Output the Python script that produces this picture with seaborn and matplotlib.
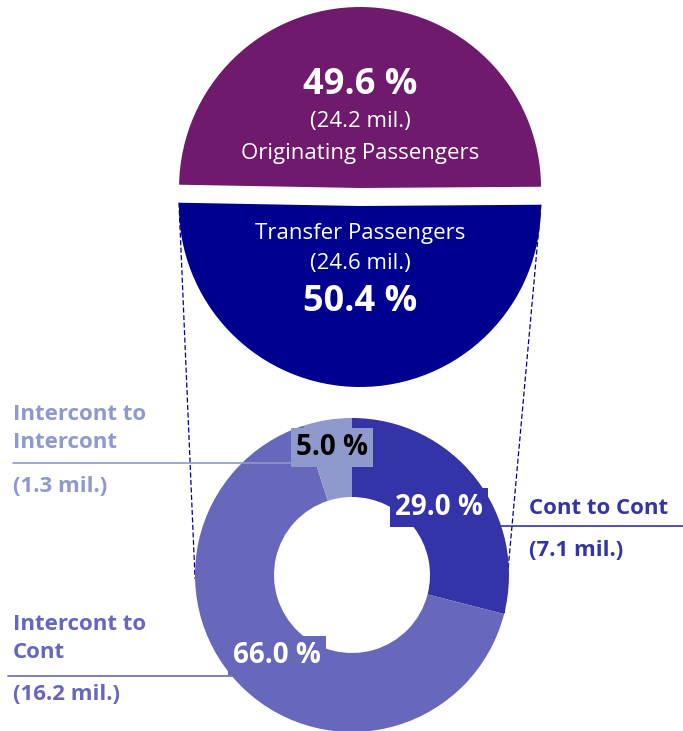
import numpy as np
import matplotlib.pyplot as plt
import seaborn as sns

# passenger split (top pie)
passenger_types = ["Originating Passengers", "Transfer Passengers"]
passenger_share = [49.6, 50.4]
passenger_mil = [24.2, 24.6]

# transfer breakdown (donut)
transfer_types = ["Cont to Cont", "Intercont to Cont", "Intercont to Intercont"]
transfer_share = [29.0, 66.0, 5.0]
transfer_mil = [7.1, 16.2, 1.3]

top_colors = ["#6F1A6C", "#00008F"]
ring_colors = ["#3434A8", "#6767BB", "#8F99CC"]

sns.set_theme(style="white")
plt.rcParams["font.family"] = ["Open Sans", "DejaVu Sans"]

W, H = 683, 731
fig = plt.figure(figsize=(W / 100, H / 100), dpi=100)
ax = fig.add_axes([0, 0, 1, 1])


def py(y):
    # pixel row -> data y
    return H - y


# top pie
top_c = (360, py(197))
top_r = 181
top_w, _ = ax.pie(passenger_share, colors=top_colors, center=top_c, radius=top_r,
                  startangle=0.4, counterclock=True, explode=[9, 9],
                  wedgeprops=dict(linewidth=0), frame=True)

# donut
ring_c = (352, py(575))
ring_r = 157
ring_w = 79
ring, _ = ax.pie(transfer_share, colors=ring_colors, center=ring_c, radius=ring_r,
                 startangle=90, counterclock=False,
                 wedgeprops=dict(width=ring_w, linewidth=0), frame=True)


def on_circle(c, r, ang):
    a = np.deg2rad(ang)
    return c[0] + r * np.cos(a), c[1] + r * np.sin(a)


# dashed connectors from the transfer half down to the donut
nav = top_w[1]
p0 = on_circle(nav.center, nav.r, nav.theta1)
p1 = on_circle(ring_c, ring_r, 181.5)
ax.plot([p0[0], p1[0]], [p0[1], p1[1]], ls=(0, (4, 2)), lw=0.9, color="#00008F", zorder=0)
p0 = on_circle(nav.center, nav.r, nav.theta2)
p1 = on_circle(ring_c, ring_r, ring[0].theta1)
ax.plot([p0[0], p1[0]], [p0[1], p1[1]], ls=(0, (4, 2)), lw=0.9, color="#00008F", zorder=0)

# text in the top pie
cx = top_c[0]
ax.text(cx, py(85), f"{passenger_share[0]:.1f} %", color="white", fontsize=26,
        fontweight="bold", ha="center", va="center")
ax.text(cx, py(122), f"({passenger_mil[0]} mil.)", color="white", fontsize=16,
        ha="center", va="center")
ax.text(cx, py(153), passenger_types[0], color="white", fontsize=16,
        ha="center", va="center")
ax.text(cx, py(233), passenger_types[1], color="white", fontsize=16,
        ha="center", va="center")
ax.text(cx, py(263), f"({passenger_mil[1]} mil.)", color="white", fontsize=16,
        ha="center", va="center")
ax.text(cx, py(302), f"{passenger_share[1]:.1f} %", color="white", fontsize=26,
        fontweight="bold", ha="center", va="center")

# percentage boxes on the donut
pct_dist = [0.70, 0.70, 0.82]
pct_color = ["white", "white", "black"]
for w, v, d, tc, fc in zip(ring, transfer_share, pct_dist, pct_color, ring_colors):
    mid = (w.theta1 + w.theta2) / 2
    x, y = on_circle(ring_c, ring_r * d, mid)
    ax.text(x, y, f"{v:.1f} %", color=tc, fontsize=20, fontweight="bold",
            ha="center", va="center", zorder=5,
            bbox=dict(boxstyle="square,pad=0.18", fc=fc, ec="none"))

# leader lines and category labels
lab_fs = 16


def label(x, rows, name, mil, color):
    # rows: pixel rows for each name line, then the "(x mil.)" line
    parts = name.split(" to ")
    lines = [parts[0] + " to", parts[1]] if len(rows) == 3 else [name]
    for row, txt in zip(rows, lines + [f"({mil} mil.)"]):
        ax.text(x, py(row), txt, color=color, fontsize=lab_fs, fontweight="bold",
                ha="left", va="center")


# Cont to Cont (right)
yl = py(526)
xl = ring_c[0] + np.sqrt(ring_r ** 2 - (yl - ring_c[1]) ** 2)
ax.plot([xl, W], [yl, yl], color=ring_colors[0], lw=1.2, zorder=4)
label(529, [508, 551], transfer_types[0], transfer_mil[0], ring_colors[0])

# Intercont to Cont (bottom left)
yl = py(676)
xl = ring_c[0] - np.sqrt(ring_r ** 2 - (yl - ring_c[1]) ** 2)
ax.plot([8, xl], [yl, yl], color=ring_colors[1], lw=1.2, zorder=4)
label(13, [624, 653, 695], transfer_types[1], transfer_mil[1], ring_colors[1])

# Intercont to Intercont (top left)
xl, yl = on_circle(ring_c, ring_r - ring_w / 2, ring[2].theta2)
ax.plot([13, xl], [yl, yl], color=ring_colors[2], lw=1.2, zorder=4)
label(13, [414, 443, 487], transfer_types[2], transfer_mil[2], ring_colors[2])

ax.set_xlim(0, W)
ax.set_ylim(0, H)
ax.set_aspect("equal")
ax.axis("off")

fig.savefig("out.png", dpi=100)
